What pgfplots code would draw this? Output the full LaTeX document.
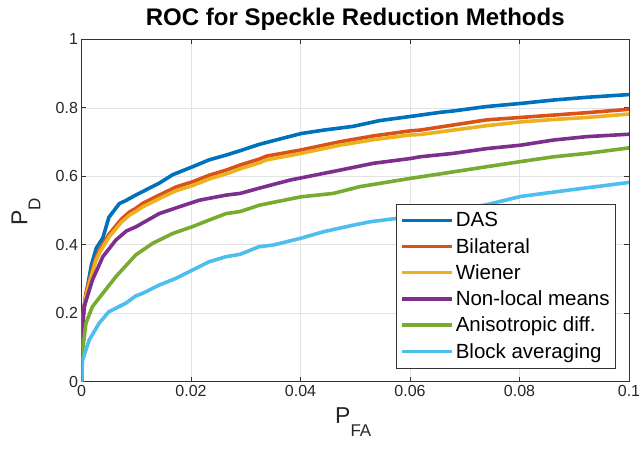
\documentclass[border=0pt]{standalone}
\usepackage{pgfplots}
\pgfplotsset{compat=1.18}
\usepackage{fontspec}
\setmainfont{Liberation Sans}
\definecolor{cDAS}{rgb}{0,0.447,0.741}
\definecolor{cBil}{rgb}{0.850,0.325,0.098}
\definecolor{cWie}{rgb}{0.929,0.694,0.125}
\definecolor{cNLM}{rgb}{0.494,0.184,0.556}
\definecolor{cAni}{rgb}{0.466,0.674,0.188}
\definecolor{cBlk}{rgb}{0.301,0.745,0.933}
\begin{document}
\begin{tikzpicture}
\begin{axis}[
  scale only axis, width=547.5pt, height=342pt,
  xmin=0, xmax=0.1, ymin=0, ymax=1,
  xtick={0,0.02,0.04,0.06,0.08,0.1},
  ytick={0,0.2,0.4,0.6,0.8,1},
  xticklabels={0,0.02,0.04,0.06,0.08,0.1},
  yticklabels={0,0.2,0.4,0.6,0.8,1},
  scaled ticks=false,
  tick align=inside, major tick length=5pt,
  grid=major, grid style={draw=black!11, line width=0.6pt},
  axis line style={draw=black!80, line width=0.8pt},
  tick style={draw=black!80, line width=0.8pt},
  ticklabel style={font=\fontsize{16}{19}\selectfont, text=black!85},
  title={ROC for Speckle Reduction Methods},
  title style={font=\bfseries\fontsize{24}{28}\selectfont, at={(axis description cs:0.5,1.0228)}, anchor=base, inner sep=0pt},
  xlabel={P\raisebox{-13pt}{\fontsize{17}{20}\selectfont FA}},
  ylabel={P\raisebox{-13pt}{\fontsize{17}{20}\selectfont D}},
  xlabel style={at={(axis description cs:0.463,-0.1236)}, anchor=base west, inner sep=0pt},
  ylabel style={at={(axis description cs:-0.0990,0.455)}, anchor=base west, inner sep=0pt},
  label style={font=\fontsize{23}{27}\selectfont, text=black!85},
  legend style={at={(1,0)}, anchor=south east, xshift=-13pt, yshift=13pt,
    draw=black!80, line width=0.8pt, font=\fontsize{20.5}{24}\selectfont,
    inner xsep=4pt, inner ysep=6.5pt, row sep=5.9pt},
  legend cell align=left,
  legend image code/.code={\draw[#1] (0pt,0pt) -- (50pt,0pt);},
  every axis plot/.append style={line width=3.6pt, line join=round},
]
\addplot[cDAS] coordinates {(0,0) (0,0.17) (0.0009,0.26) (0.0018,0.34) (0.0027,0.39) (0.0039,0.42) (0.005,0.48) (0.0069,0.52) (0.0082,0.53) (0.0099,0.545) (0.0142,0.58) (0.0167,0.605) (0.0203,0.628) (0.0233,0.648) (0.0264,0.662) (0.0290,0.675) (0.0324,0.693) (0.0350,0.704) (0.0401,0.725) (0.0442,0.735) (0.0496,0.746) (0.0545,0.763) (0.0601,0.775) (0.0655,0.787) (0.0679,0.791) (0.0740,0.804) (0.0802,0.813) (0.0862,0.823) (0.0923,0.831) (0.1,0.839)};
\addlegendentry{DAS}
\addplot[cBil] coordinates {(0,0) (0,0.16) (0.0008,0.258) (0.0018,0.316) (0.0026,0.36) (0.0033,0.385) (0.005,0.43) (0.0073,0.475) (0.0088,0.496) (0.0099,0.506) (0.0112,0.521) (0.0142,0.545) (0.0173,0.569) (0.0203,0.584) (0.0233,0.603) (0.0264,0.618) (0.029,0.633) (0.0324,0.65) (0.0338,0.659) (0.0401,0.677) (0.0472,0.701) (0.0533,0.718) (0.0601,0.733) (0.0618,0.735) (0.0679,0.75) (0.074,0.765) (0.0802,0.772) (0.0862,0.779) (0.0923,0.786) (0.1,0.796)};
\addlegendentry{Bilateral}
\addplot[cWie] coordinates {(0,0) (0,0.15) (0.0008,0.25) (0.0018,0.308) (0.0026,0.352) (0.0033,0.377) (0.005,0.422) (0.0073,0.466) (0.0088,0.487) (0.0099,0.497) (0.0112,0.511) (0.0142,0.535) (0.0173,0.558) (0.0203,0.573) (0.0233,0.592) (0.0264,0.607) (0.029,0.622) (0.0324,0.639) (0.0338,0.648) (0.0401,0.667) (0.0472,0.691) (0.0533,0.707) (0.0601,0.721) (0.0618,0.722) (0.0679,0.735) (0.074,0.748) (0.0802,0.759) (0.0862,0.766) (0.0923,0.772) (0.1,0.782)};
\addlegendentry{Wiener}
\addplot[cNLM] coordinates {(0,0) (0,0.11) (0.0005,0.219) (0.002,0.297) (0.0039,0.365) (0.0063,0.414) (0.0082,0.44) (0.0099,0.452) (0.0142,0.491) (0.0179,0.511) (0.0215,0.53) (0.0264,0.545) (0.029,0.55) (0.0324,0.565) (0.0381,0.589) (0.0472,0.618) (0.0533,0.638) (0.0601,0.652) (0.0618,0.657) (0.0679,0.667) (0.074,0.681) (0.0802,0.691) (0.0862,0.706) (0.0923,0.716) (0.1,0.723)};
\addlegendentry{Non-local means}
\addplot[cAni] coordinates {(0,0) (0,0.063) (0.0008,0.17) (0.002,0.219) (0.0039,0.258) (0.0063,0.307) (0.0099,0.37) (0.013,0.404) (0.0167,0.433) (0.0203,0.453) (0.0233,0.472) (0.0264,0.491) (0.029,0.497) (0.0326,0.516) (0.0401,0.54) (0.046,0.55) (0.0509,0.57) (0.0563,0.584) (0.0601,0.594) (0.0655,0.607) (0.0679,0.613) (0.074,0.628) (0.0802,0.643) (0.0862,0.657) (0.0923,0.667) (0.1,0.683)};
\addlegendentry{Anisotropic diff.}
\addplot[cBlk] coordinates {(0,0) (0.0002,0.063) (0.0014,0.121) (0.0032,0.17) (0.005,0.204) (0.0081,0.229) (0.0099,0.25) (0.0112,0.258) (0.0142,0.282) (0.0173,0.302) (0.0203,0.326) (0.0233,0.35) (0.0264,0.365) (0.029,0.372) (0.0324,0.394) (0.035,0.399) (0.0401,0.419) (0.0442,0.438) (0.0496,0.457) (0.0527,0.467) (0.0576,0.477) (0.0618,0.487) (0.0679,0.499) (0.074,0.517) (0.0802,0.541) (0.0892,0.56) (0.1,0.582)};
\addlegendentry{Block averaging}
\end{axis}
\pgfresetboundingbox
\path ([shift={(-81.5pt,-67.5pt)}]current axis.south west) rectangle ([shift={(12pt,39.5pt)}]current axis.north east);
\end{tikzpicture}
\end{document}
